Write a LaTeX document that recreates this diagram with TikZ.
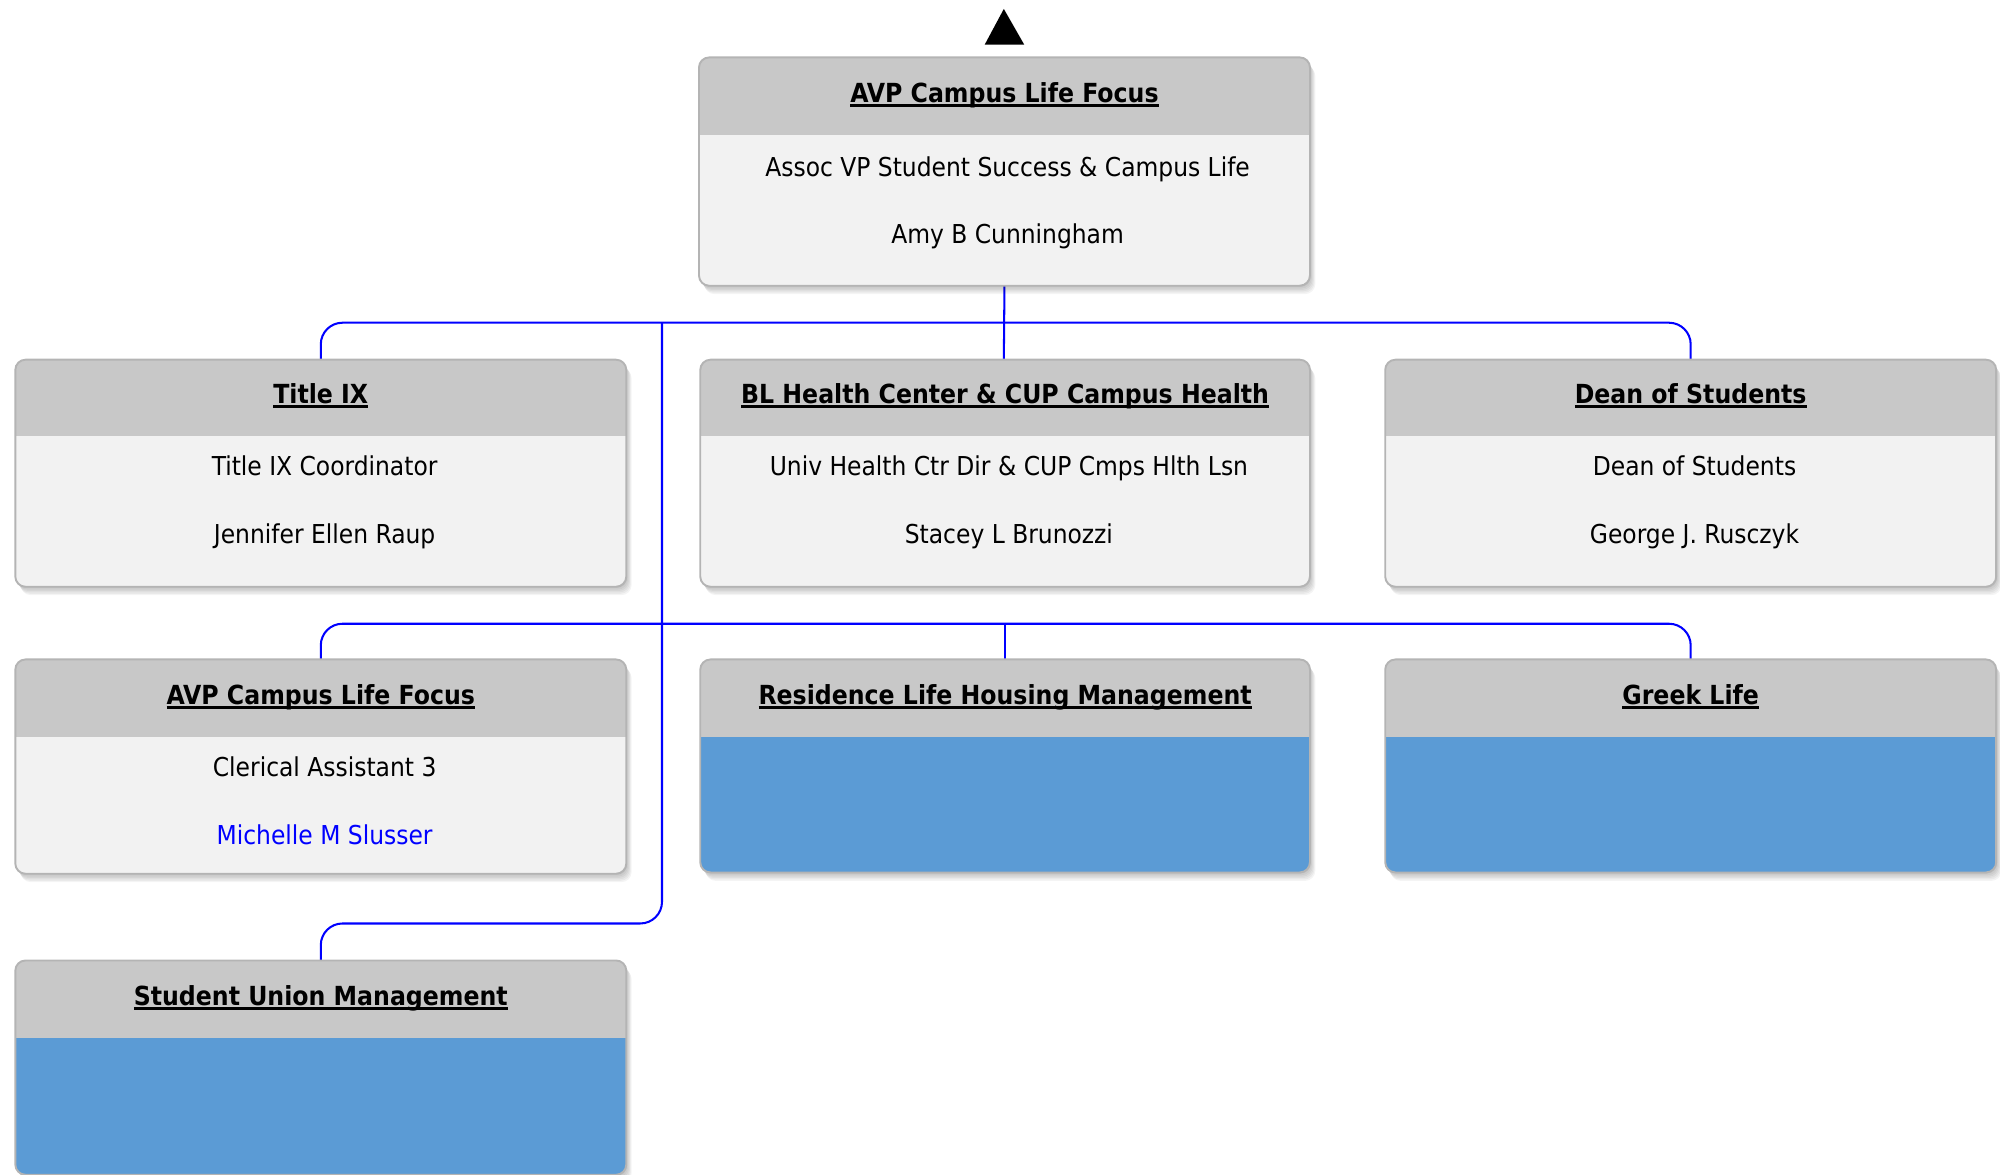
\documentclass[tikz,border=0pt]{standalone}
\usepackage{fontspec}
\setmainfont{DejaVu Sans Condensed}
\usetikzlibrary{calc}
\definecolor{hdrgray}{HTML}{C8C8C8}
\definecolor{bodygray}{HTML}{F2F2F2}
\definecolor{bodyblue}{HTML}{5B9BD5}
\definecolor{edgegray}{HTML}{B4B4B4}
\definecolor{linkblue}{HTML}{0000FF}
\newcommand\hdul[1]{\leavevmode\setbox0\hbox{#1}\rlap{\raisebox{-3.6pt}{\rule{\wd0}{1.8pt}}}\box0}
\newcommand\orgunit[7]{%
  \foreach \k in {1,...,6}{\fill[black,opacity=0.045,rounded corners=8pt] ({#2+0.7*\k},{#3+1.1*\k}) rectangle ({#4+0.7*\k},{#5+1.1*\k});}
  \node[unitshape,minimum width=#4-#2,minimum height=#5-#3] (#1) at ({(#2+#4)/2},{(#3+#5)/2}) {};
  \begin{scope}
    \clip[rounded corners=8pt] (#1.north west) rectangle (#1.south east);
    \fill[#7] (#1.north west) rectangle (#1.south east);
    \fill[hdrgray] (#1.north west) rectangle ($(#1.north east)+(0,#6)$);
  \end{scope}
  \draw[edgegray,line width=1.5pt,rounded corners=8pt] (#1.north west) rectangle (#1.south east);
}
\tikzset{
  unitshape/.style={rectangle,draw=none,inner sep=0pt,outer sep=0pt},
  link/.style={draw=linkblue,line width=1.6pt,rounded corners=17pt},
  hdrtext/.style={anchor=base,inner sep=0pt,font=\fontsize{20.6}{24}\selectfont\bfseries},
  linetext/.style={anchor=base,inner sep=0pt,font=\fontsize{20.4}{24}\selectfont},
}
\begin{document}
\begin{tikzpicture}[x=1pt,y=-1pt]
\useasboundingbox (0,0) rectangle (1568,921);
% apex marker
\fill (787,7) -- (803,35) -- (772,35) -- cycle;
% bus coordinates
\coordinate (bus1) at (787,253);
\coordinate (bus2) at (788,489);
\coordinate (trunktop) at (519,253);
\coordinate (bus3) at (519,724);
\path (251.5,282) coordinate (titleixtop) (1325.5,282) coordinate (deantop)
      (788,282) coordinate (healthtop) (251.5,517) coordinate (clericaltop)
      (788,517) coordinate (residencetop) (1325.5,517) coordinate (greektop)
      (251.5,753) coordinate (uniontop) (787.5,224) coordinate (ceobottom);
\draw[link] (titleixtop) |- (bus1) -| (deantop);
\draw[link] (ceobottom) -- (bus1 |- healthtop);
\draw[link] (clericaltop) |- (bus2) -| (greektop);
\draw[link] (bus2) -- (residencetop);
\draw[link] (trunktop) -- (bus3) -| (uniontop);
% units
\orgunit{ceo}{548}{45}{1027}{224}{61}{bodygray}
\orgunit{titleix}{12}{282}{491}{460}{60}{bodygray}
\orgunit{health}{549}{282}{1027}{460}{60}{bodygray}
\orgunit{dean}{1086}{282}{1565}{460}{60}{bodygray}
\orgunit{clerical}{12}{517}{491}{685}{61}{bodygray}
\orgunit{residence}{549}{517}{1027}{684}{61}{bodyblue}
\orgunit{greek}{1086}{517}{1565}{684}{61}{bodyblue}
\orgunit{union}{12}{753}{491}{921}{61}{bodyblue}
% texts
\node[hdrtext] (ceoh) at (787.5,80) {\hdul{AVP Campus Life Focus}};
\node[linetext] (ceo1) at (790,138) {Assoc VP Student Success \& Campus Life};
\node[linetext] (ceo2) at (790,191) {Amy B Cunningham};
\node[hdrtext] (titleixh) at (251.5,316) {\hdul{Title IX}};
\node[linetext] (titleix1) at (254.5,373) {Title IX Coordinator};
\node[linetext] (titleix2) at (254.5,426) {Jennifer Ellen Raup};
\node[hdrtext] (healthh) at (788,316) {\hdul{BL Health Center \& CUP Campus Health}};
\node[linetext] (health1) at (791,373) {Univ Health Ctr Dir \& CUP Cmps Hlth Lsn};
\node[linetext] (health2) at (791,426) {Stacey L Brunozzi};
\node[hdrtext] (deanh) at (1325.5,316) {\hdul{Dean of Students}};
\node[linetext] (dean1) at (1328.5,373) {Dean of Students};
\node[linetext] (dean2) at (1328.5,426) {George J. Rusczyk};
\node[hdrtext] (clericalh) at (251.5,552) {\hdul{AVP Campus Life Focus}};
\node[linetext] (clerical1) at (254.5,609) {Clerical Assistant 3};
\node[linetext,text=linkblue] (clerical2) at (254.5,662) {Michelle M Slusser};
\node[hdrtext] (residenceh) at (788,552) {\hdul{Residence Life Housing Management}};
\node[hdrtext] (greekh) at (1325.5,552) {\hdul{Greek Life}};
\node[hdrtext] (unionh) at (251.5,788) {\hdul{Student Union Management}};
\end{tikzpicture}
\end{document}
